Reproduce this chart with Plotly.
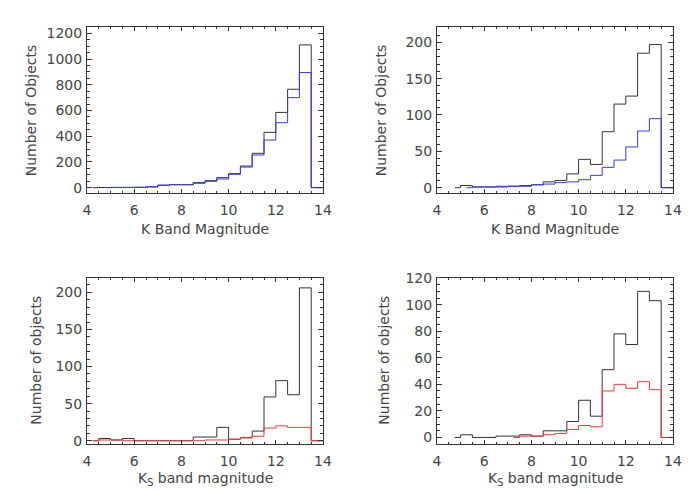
import plotly.graph_objects as go

# ---------------- data (bin left edges and counts) ----------------
# Panel 1 (top-left): K band magnitude, all vs. subset
p1_black_edges = [4.25, 4.5, 5.0, 5.5, 6.0, 6.5, 7.0, 7.5, 8.0, 8.5, 9.0, 9.5, 10.0, 10.5, 11.0, 11.5, 12.0, 12.5, 13.0, 13.5, 14.0]
p1_black_counts = [0, 1, 2, 2, 3, 5, 18, 23, 23, 39, 54, 78, 109, 168, 267, 430, 585, 765, 1110, 0, 0]
p1_blue_edges = [4.75, 5.0, 5.5, 6.0, 6.5, 7.0, 7.5, 8.0, 8.5, 9.0, 9.5, 10.0, 10.5, 11.0, 11.5, 12.0, 12.5, 13.0, 13.5, 14.0]
p1_blue_counts = [0, 1, 1, 2, 8, 20, 23, 23, 34, 49, 67, 104, 160, 254, 370, 505, 700, 895, 0, 0]

# Panel 2 (top-right)
p2_black_edges = [4.75, 5.0, 5.5, 6.0, 6.5, 7.0, 7.5, 8.0, 8.5, 9.0, 9.5, 10.0, 10.5, 11.0, 11.5, 12.0, 12.5, 13.0, 13.5, 14.0]
p2_black_counts = [0, 3, 1, 1, 1, 2, 3, 4, 8, 10, 19, 39, 32, 77, 115, 126, 185, 197, 0, 0]
p2_blue_edges = [5.25, 5.5, 6.0, 6.5, 7.0, 7.5, 8.0, 8.5, 9.0, 9.5, 10.0, 10.5, 11.0, 11.5, 12.0, 12.5, 13.0, 13.5, 14.0]
p2_blue_counts = [0, 1, 1, 2, 2, 2, 4, 5, 7, 8, 11, 17, 28, 38, 56, 78, 95, 0, 0]

# Panel 3 (bottom-left): Ks band magnitude
p3_black_edges = [4.25, 4.5, 5.0, 5.5, 6.0, 6.5, 7.0, 7.5, 8.0, 8.5, 9.0, 9.5, 10.0, 10.5, 11.0, 11.5, 12.0, 12.5, 13.0, 13.5, 14.0]
p3_black_counts = [0, 3, 1, 3, 0, 0, 0, 0, 0, 5, 5, 18, 2, 4, 13, 59, 81, 62, 206, 0, 0]
p3_red_edges = [4.25, 4.5, 5.0, 5.5, 6.0, 6.5, 7.0, 7.5, 8.0, 8.5, 9.0, 9.5, 10.0, 10.5, 11.0, 11.5, 12.0, 12.5, 13.0, 13.5, 14.0]
p3_red_counts = [0, 1, 1, 0, 0, 0, 0, 0, 0, 0, 1, 1, 2, 4, 6, 17, 20, 18, 18, 0, 0]

# Panel 4 (bottom-right)
p4_black_edges = [4.75, 5.0, 5.5, 6.0, 6.5, 7.0, 7.5, 8.0, 8.5, 9.0, 9.5, 10.0, 10.5, 11.0, 11.5, 12.0, 12.5, 13.0, 13.5, 14.0]
p4_black_counts = [0, 2, 0, 0, 1, 1, 2, 1, 5, 5, 12, 28, 16, 51, 78, 70, 110, 103, 0, 0]
p4_red_edges = [7.25, 7.5, 8.0, 8.5, 9.0, 9.5, 10.0, 10.5, 11.0, 11.5, 12.0, 12.5, 13.0, 13.5, 14.0]
p4_red_counts = [0, 1, 1, 2, 3, 6, 9, 8, 35, 40, 37, 42, 36, 0, 0]

x_range = [4, 14]
x_ticks = [4, 6, 8, 10, 12, 14]
top_title_x = "K Band Magnitude"
top_title_y = "Number of Objects"
bot_title_x = "K<sub>S</sub> band magnitude"
bot_title_y = "Number of objects"

# ---------------- styling ----------------
BLACK = "#333333"
BLUE = "rgb(55,55,245)"
RED = "rgb(245,55,55)"
FONT = dict(family="DejaVu Sans", size=14, color="#444444")

panels = [
    # (axis id, domain x, domain y, yrange, ydtick, yminor, series)
    ("", [87 / 700, 323 / 700], [1 - 193.3 / 500, 1 - 27.3 / 500], [-44, 1247], 200, 50,
     [(p1_black_edges, p1_black_counts, BLACK), (p1_blue_edges, p1_blue_counts, BLUE)]),
    ("2", [437 / 700, 673 / 700], [1 - 193.3 / 500, 1 - 27.3 / 500], [-7.7, 220.6], 50, 10,
     [(p2_black_edges, p2_black_counts, BLACK), (p2_blue_edges, p2_blue_counts, BLUE)]),
    ("3", [87 / 700, 323 / 700], [1 - 443.7 / 500, 1 - 277.7 / 500], [-4, 219.7], 50, 10,
     [(p3_black_edges, p3_black_counts, BLACK), (p3_red_edges, p3_red_counts, RED)]),
    ("4", [437 / 700, 673 / 700], [1 - 443.7 / 500, 1 - 277.7 / 500], [-4.7, 120.3], 20, 5,
     [(p4_black_edges, p4_black_counts, BLACK), (p4_red_edges, p4_red_counts, RED)]),
]

fig = go.Figure()
layout = dict(
    width=700, height=500,
    margin=dict(l=0, r=0, t=0, b=0, autoexpand=False),
    paper_bgcolor="white", plot_bgcolor="white",
    showlegend=False,
    font=FONT,
)
annotations = []

for ax, dx, dy, yr, ydt, ymin, series in panels:
    for edges, counts, color in series:
        fig.add_trace(go.Scatter(
            x=edges, y=counts, mode="lines",
            line=dict(shape="hv", color=color, width=1),
            xaxis="x" + ax, yaxis="y" + ax, hoverinfo="skip",
        ))
    common = dict(showline=True, linecolor=BLACK, linewidth=1, mirror="ticks",
                  ticks="inside", tickcolor=BLACK, showgrid=False, zeroline=False,
                  tickfont=FONT, automargin=False)
    layout["xaxis" + ax] = dict(
        common, domain=dx, range=x_range, tickvals=x_ticks, ticklen=4,
        ticklabelstandoff=4,
        minor=dict(dtick=0.5, tick0=4, ticks="inside", ticklen=2, tickcolor=BLACK),
        anchor="y" + ax,
    )
    layout["yaxis" + ax] = dict(
        common, domain=dy, range=yr, dtick=ydt, tick0=0, ticklen=5,
        ticklabelstandoff=1,
        minor=dict(dtick=ymin, tick0=0, ticks="inside", ticklen=3, tickcolor=BLACK),
        anchor="x" + ax,
    )
    top = ax in ("", "2")
    xt = top_title_x if top else bot_title_x
    yt = top_title_y if top else bot_title_y
    xc = (dx[0] + dx[1]) / 2
    annotations.append(dict(text=xt, x=xc, y=1 - (229 if top else 479) / 500,
                            xref="paper", yref="paper", xanchor="center", yanchor="middle",
                            showarrow=False, font=FONT))
    yc = (dy[0] + dy[1]) / 2
    xpix = {"": 31, "2": 381, "3": 36, "4": 384}[ax]
    annotations.append(dict(text=yt, x=xpix / 700, y=yc, xref="paper", yref="paper",
                            xanchor="center", yanchor="middle", textangle=-90,
                            showarrow=False, font=FONT))

layout["annotations"] = annotations
fig.update_layout(**layout)
fig.write_html("out.html", config={"displayModeBar": False},
               post_script="document.body.style.margin='0px';")
